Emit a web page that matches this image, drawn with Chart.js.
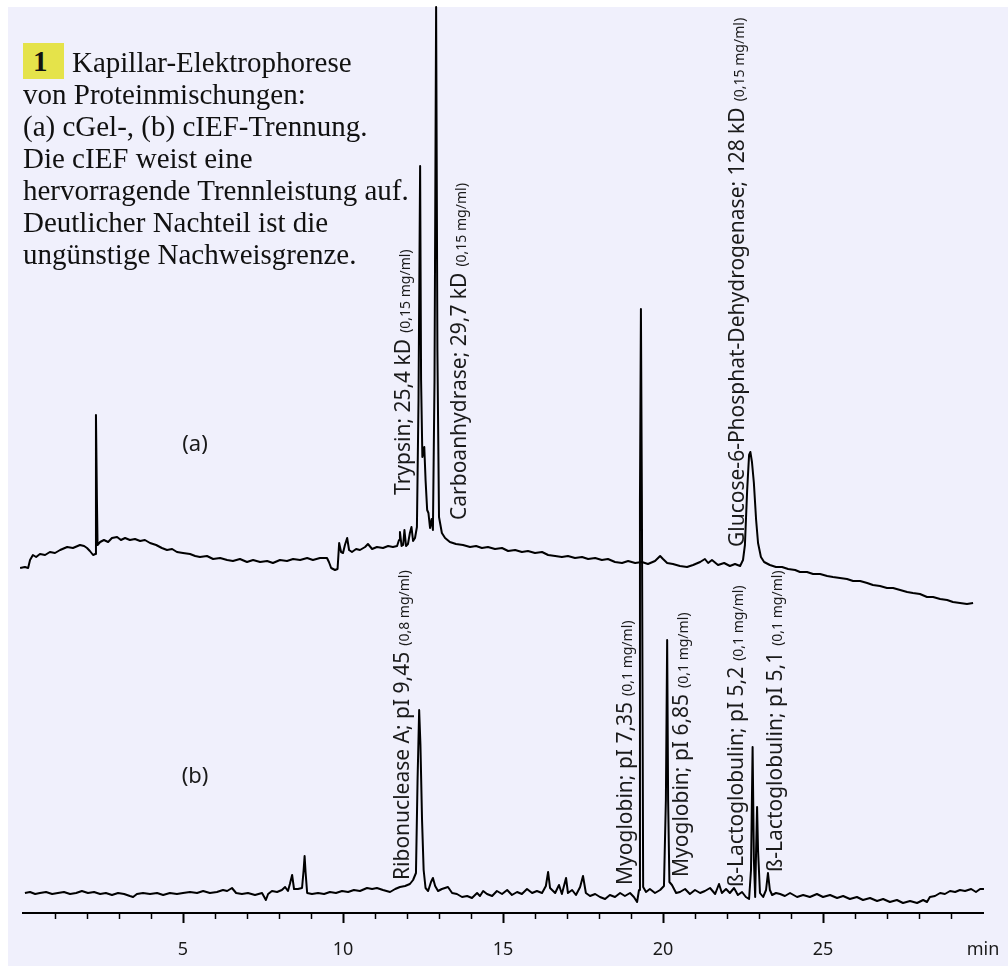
<!DOCTYPE html>
<html>
<head>
<meta charset="utf-8">
<script src="https://cdn.jsdelivr.net/npm/chart.js@4.4.1/dist/chart.umd.min.js"></script>
<style>
  body { margin: 0; background: #fff; }
  #wrap { position: relative; width: 1008px; height: 966px; }
  #num {
    position: absolute; left: 23px; top: 43px; width: 41px; height: 36px;
    background: #e5e34a; font: bold 29px "Liberation Serif", serif;
    line-height: 36px; text-indent: 10px; color: #111;
  }
  #caption {
    position: absolute; left: 23px; top: 46px; white-space: nowrap;
    font: 29px "Liberation Serif", serif; line-height: 32px; color: #111;
    text-indent: 49px;
  }
</style>
</head>
<body>
<div id="wrap">
  <canvas id="chart" width="1008" height="966"></canvas>
  <div id="num">1</div>
  <div id="caption">Kapillar-Elektrophorese<br>von Proteinmischungen:<br>(a) cGel-, (b) cIEF-Trennung.<br>Die cIEF weist eine<br>hervorragende Trennleistung auf.<br>Deutlicher Nachteil ist die<br>ungünstige Nachweisgrenze.</div>
</div>
<script>
// Trace (a): cGel separation, time in min, signal in arbitrary units
const traceA_time = [-0.30,-0.20,-0.09,0.06,0.16,0.22,0.31,0.41,0.53,0.69,0.84,1.00,1.16,1.38,1.56,1.78,1.91,2.00,2.09,2.19,2.26,2.28,2.31,2.33,2.41,2.53,2.66,2.78,2.94,3.06,3.19,3.34,3.50,3.66,3.81,3.97,4.16,4.34,4.50,4.66,4.81,5.00,5.22,5.38,5.53,5.75,5.94,6.16,6.38,6.56,6.78,7.00,7.19,7.41,7.63,7.81,8.03,8.25,8.44,8.66,8.88,9.06,9.28,9.50,9.56,9.63,9.75,9.83,9.88,9.94,10.00,10.06,10.13,10.19,10.28,10.41,10.53,10.69,10.78,10.91,11.06,11.25,11.41,11.56,11.69,11.75,11.78,11.83,11.88,11.92,11.97,12.03,12.09,12.14,12.19,12.25,12.31,12.36,12.41,12.44,12.48,12.54,12.58,12.63,12.67,12.72,12.77,12.81,12.86,12.91,12.95,13.00,13.09,13.19,13.34,13.53,13.75,13.97,14.16,14.34,14.53,14.75,14.97,15.16,15.38,15.59,15.78,16.00,16.22,16.41,16.63,16.84,17.03,17.25,17.47,17.66,17.88,18.09,18.28,18.50,18.72,18.91,19.13,19.34,19.53,19.75,19.91,20.00,20.13,20.31,20.53,20.75,20.94,21.16,21.31,21.41,21.53,21.72,21.91,22.09,22.25,22.41,22.50,22.56,22.63,22.69,22.73,22.78,22.84,22.91,22.97,23.06,23.16,23.34,23.53,23.72,23.91,24.13,24.28,24.50,24.69,24.91,25.13,25.31,25.53,25.75,25.94,26.16,26.38,26.56,26.78,27.00,27.19,27.41,27.63,27.81,28.03,28.25,28.44,28.66,28.88,29.06,29.28,29.50,29.69];
const traceA_signal = [360,345,345,346,345,353,358,356,359,358,361,360,363,366,365,368,367,365,362,358,359,498,413,368,371,373,371,375,376,373,375,373,374,372,373,370,368,365,363,364,361,360,359,357,356,357,354,355,353,352,354,351,353,351,352,350,353,352,354,353,355,353,355,355,351,345,343,344,370,361,360,368,375,363,361,364,363,366,369,364,366,365,367,366,367,373,381,367,368,383,367,369,380,386,372,375,386,513,747,533,456,466,433,403,400,385,394,383,533,906,563,396,380,375,371,369,368,366,367,365,366,364,365,362,363,361,362,360,361,358,357,356,357,355,356,354,355,353,354,351,350,352,350,351,349,352,357,354,350,349,347,346,348,351,354,350,353,348,350,347,349,347,353,368,423,458,461,451,430,393,370,356,351,348,346,346,344,343,341,341,339,339,337,336,335,334,332,332,330,328,327,325,325,323,321,320,319,316,316,314,313,311,310,309,310];

// Trace (b): cIEF separation
const traceB_time = [0.06,0.22,0.38,0.53,0.72,0.91,1.09,1.28,1.47,1.66,1.84,2.03,2.22,2.41,2.59,2.78,2.97,3.16,3.34,3.44,3.56,3.75,3.97,4.19,4.38,4.59,4.81,5.00,5.22,5.44,5.63,5.84,6.06,6.25,6.38,6.53,6.66,6.84,7.03,7.25,7.47,7.59,7.66,7.78,7.94,8.09,8.19,8.28,8.34,8.41,8.47,8.59,8.72,8.77,8.80,8.83,8.88,9.03,9.22,9.41,9.59,9.78,9.97,10.16,10.34,10.53,10.75,10.91,11.06,11.25,11.47,11.63,11.78,11.94,12.09,12.19,12.28,12.33,12.38,12.42,12.47,12.52,12.58,12.66,12.75,12.81,12.88,12.97,13.09,13.28,13.41,13.56,13.72,13.88,14.03,14.19,14.28,14.38,14.50,14.66,14.81,14.97,15.13,15.28,15.44,15.59,15.75,15.91,16.06,16.22,16.34,16.41,16.47,16.63,16.75,16.84,16.97,17.03,17.16,17.28,17.41,17.50,17.59,17.72,17.88,18.03,18.19,18.34,18.50,18.66,18.81,18.97,19.09,19.19,19.25,19.28,19.31,19.34,19.38,19.47,19.59,19.75,19.91,20.03,20.09,20.13,20.16,20.20,20.28,20.41,20.53,20.69,20.84,21.00,21.16,21.31,21.47,21.63,21.75,21.84,21.97,22.09,22.22,22.34,22.47,22.59,22.69,22.75,22.80,22.84,22.88,22.91,22.94,22.97,23.03,23.13,23.22,23.28,23.34,23.41,23.53,23.66,23.81,23.97,24.19,24.38,24.59,24.81,25.00,25.22,25.44,25.63,25.84,26.06,26.25,26.47,26.69,26.88,27.09,27.31,27.50,27.72,27.94,28.13,28.25,28.34,28.50,28.66,28.81,28.97,29.13,29.28,29.44,29.63,29.78,29.91,30.03];
const traceB_signal = [20,21,19,20,21,19,20,21,19,20,22,20,21,19,20,18,20,19,17,16,19,20,19,20,18,20,19,20,21,20,22,20,21,23,22,25,20,19,20,18,20,13,19,22,21,23,26,22,29,38,24,24,25,43,57,41,20,19,20,19,21,20,22,21,23,22,25,24,25,23,21,24,26,27,29,33,40,133,203,168,93,43,25,22,31,35,27,22,24,26,20,19,16,17,15,20,17,22,19,17,22,19,23,18,21,19,24,20,22,20,27,41,25,20,28,19,35,20,23,18,26,37,20,17,19,16,14,18,16,20,17,20,16,11,23,413,604,413,26,21,24,20,23,27,113,273,113,31,28,20,21,24,19,23,20,22,25,19,29,20,24,20,25,18,21,16,14,43,166,53,16,63,106,63,20,16,23,40,23,18,20,19,17,20,16,18,16,19,16,18,15,17,14,16,13,15,12,14,11,13,10,12,10,13,11,16,17,20,19,22,21,23,22,24,21,24,24];

// Peak labels (rotated), anchored at time / signal level of the text start
const labelMain = ['Trypsin; 25,4 kD', 'Carboanhydrase; 29,7 kD', 'Glucose-6-Phosphat-Dehydrogenase; 128 kD',
  'Ribonuclease A; pI 9,45', 'Myoglobin; pI 7,35', 'Myoglobin; pI 6,85', 'ß-Lactoglobulin; pI 5,2', 'ß-Lactoglobulin; pI 5,1'];
const labelConc = ['(0,15 mg/ml)', '(0,15 mg/ml)', '(0,15 mg/ml)', '(0,8 mg/ml)', '(0,1 mg/ml)', '(0,1 mg/ml)', '(0,1 mg/ml)', '(0,1 mg/ml)'];
const labelTime = [12.09, 13.84, 22.53, 12.06, 19.03, 20.78, 22.50, 23.72];
const labelLevel = [418, 393, 366, 33, 28, 36, 26, 41];

// Trace names
const traceNames = ['(a)', '(b)'];
const traceNameTime = [5.375, 5.375];
const traceNameLevel = [468, 136];

const majorTicks = [0, 5, 10, 15, 20, 25, 30];

const toPoints = (t, s) => t.map((x, i) => ({ x: x, y: s[i] }));

const decor = {
  id: 'decor',
  beforeDraw(chart) {
    const c = chart.ctx;
    c.save();
    c.fillStyle = '#ffffff';
    c.fillRect(0, 0, chart.width, chart.height);
    c.fillStyle = '#f0f0fc';
    c.fillRect(8, 7, chart.width - 8, chart.height - 7);
    c.restore();
  },
  afterDraw(chart) {
    const c = chart.ctx;
    const xs = chart.scales.x, ys = chart.scales.y;
    const y0 = chart.chartArea.bottom;
    c.save();
    c.strokeStyle = '#000';
    // minor and major ticks
    for (let v = 1; v < 30; v++) {
      const px = Math.round(xs.getPixelForValue(v)) + 0.5;
      const major = v % 5 === 0;
      c.lineWidth = major ? 2 : 1.5;
      c.beginPath();
      c.moveTo(px, y0);
      c.lineTo(px, y0 + (major ? 10 : 6));
      c.stroke();
    }
    c.fillStyle = '#1a1a1a';
    // rotated peak labels
    labelMain.forEach((txt, i) => {
      c.save();
      c.translate(xs.getPixelForValue(labelTime[i]), ys.getPixelForValue(labelLevel[i]));
      c.rotate(-Math.PI / 2);
      c.textAlign = 'left';
      c.textBaseline = 'alphabetic';
      c.font = '21px "Noto Sans"';
      c.fillText(txt, 0, 0);
      const w = c.measureText(txt).width;
      c.font = '14px "Noto Sans"';
      c.fillText(labelConc[i], w + 6, 0);
      c.restore();
    });
    // trace names
    c.font = '22px "Noto Sans"';
    c.textAlign = 'center';
    c.textBaseline = 'middle';
    traceNames.forEach((txt, i) => {
      c.fillText(txt, xs.getPixelForValue(traceNameTime[i]), ys.getPixelForValue(traceNameLevel[i]));
    });
    c.restore();
  }
};

document.addEventListener('DOMContentLoaded', function () {
  const ctx = document.getElementById('chart').getContext('2d');
  const lineStyle = { borderColor: '#000', backgroundColor: '#000', borderWidth: 2, borderJoinStyle: 'round',
    pointRadius: 0, tension: 0, clip: false, fill: false };
  new Chart(ctx, {
    type: 'line',
    data: {
      datasets: [
        Object.assign({ label: '(a)', data: toPoints(traceA_time, traceA_signal) }, lineStyle),
        Object.assign({ label: '(b)', data: toPoints(traceB_time, traceB_signal) }, lineStyle)
      ]
    },
    options: {
      responsive: false,
      animation: false,
      devicePixelRatio: 1,
      layout: { padding: { left: 23, right: 25, top: 7, bottom: 0 } },
      plugins: { legend: { display: false }, tooltip: { enabled: false }, colors: { enabled: false } },
      scales: {
        x: {
          type: 'linear',
          min: 0,
          max: 30,
          afterBuildTicks: axis => { axis.ticks = majorTicks.map(v => ({ value: v })); },
          afterFit: axis => { axis.height = 53; axis.paddingLeft = 0; axis.paddingRight = 0; },
          ticks: {
            autoSkip: false,
            maxRotation: 0,
            padding: 26,
            color: '#1a1a1a',
            font: { family: 'Noto Sans', size: 18 },
            callback: v => (v === 0 ? '' : v === 30 ? 'min' : String(v))
          },
          grid: { display: false, drawTicks: false },
          border: { display: true, color: '#000', width: 2 }
        },
        y: { display: false, min: 0, max: 906 }
      }
    },
    plugins: [decor]
  });
});
</script>
</body>
</html>
